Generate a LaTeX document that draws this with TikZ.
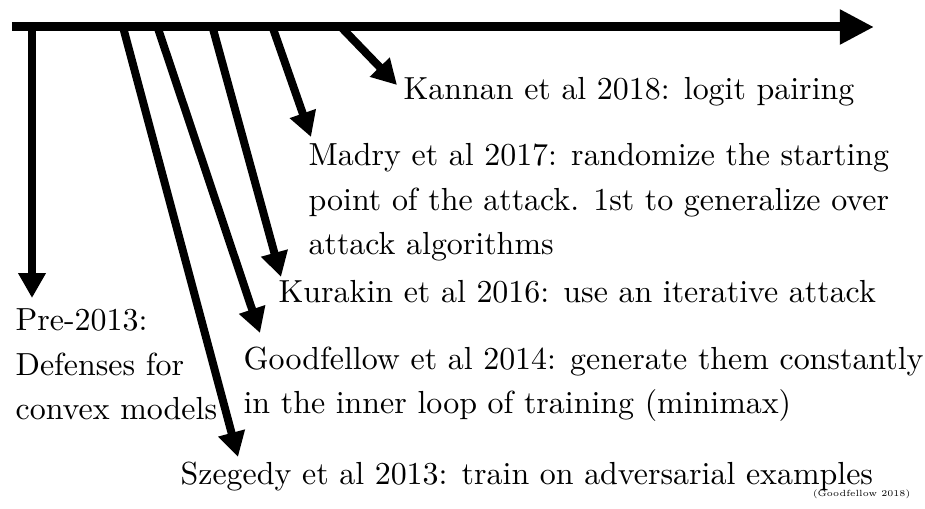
\documentclass[tikz,border=0pt]{standalone}
\usetikzlibrary{arrows.meta}
\begin{document}
\begin{tikzpicture}[x=0.3257pt,y=-0.3257pt,
  lbl/.style={anchor=base west, inner sep=0pt, align=left, font=\fontsize{10.4}{14.6}\selectfont},
  branch/.style={line width=2.6pt, -{Triangle[length=8.1pt,width=8.5pt]}},
  axis/.style={line width=2.93pt, -{Triangle[length=11.1pt,width=10.7pt]}}]
\useasboundingbox (0,0) rectangle (925,509);
% axis
\coordinate (a0) at (12,27);
\coordinate (a1) at (874,27);
\draw[axis] (a0) -- (a1);
% branch start points on the axis
\coordinate (s1) at (32,27);
\coordinate (s2) at (123,27);
\coordinate (s3) at (157.5,27);
\coordinate (s4) at (212.5,27);
\coordinate (s5) at (272.5,27);
\coordinate (s6) at (341,27);
% tips
\coordinate (t1) at (32,298);
\coordinate (t2) at (238,457);
\coordinate (t3) at (260,333);
\coordinate (t4) at (281,277);
\coordinate (t5) at (311,137);
\coordinate (t6) at (397,85);
% labels (base anchor = baseline of the last line)
\node[lbl] (kannan) at (403,100) {Kannan et al 2018: logit pairing};
\node[lbl] (madry) at (308,255) {Madry et al 2017: randomize the starting\\point of the attack. 1st to generalize over\\attack algorithms};
\node[lbl] (kurakin) at (278,303) {Kurakin et al 2016: use an iterative attack};
\node[lbl] (pre) at (15,420) {Pre-2013:\\Defenses for\\convex models};
\node[lbl] (goodfellow) at (243,414) {Goodfellow et al 2014: generate them constantly\\in the inner loop of training (minimax)};
\node[lbl] (szegedy) at (180,485) {Szegedy et al 2013: train on adversarial examples};
\node[anchor=base east, inner sep=0pt, font=\fontsize{2.9}{3.2}\selectfont] (cite) at (911,497) {(Goodfellow 2018)};
% branches
\draw[branch] (s1) -- (t1);
\draw[branch] (s2) -- (t2);
\draw[branch] (s3) -- (t3);
\draw[branch] (s4) -- (t4);
\draw[branch] (s5) -- (t5);
\draw[branch] (s6) -- (t6);
\end{tikzpicture}
\end{document}
